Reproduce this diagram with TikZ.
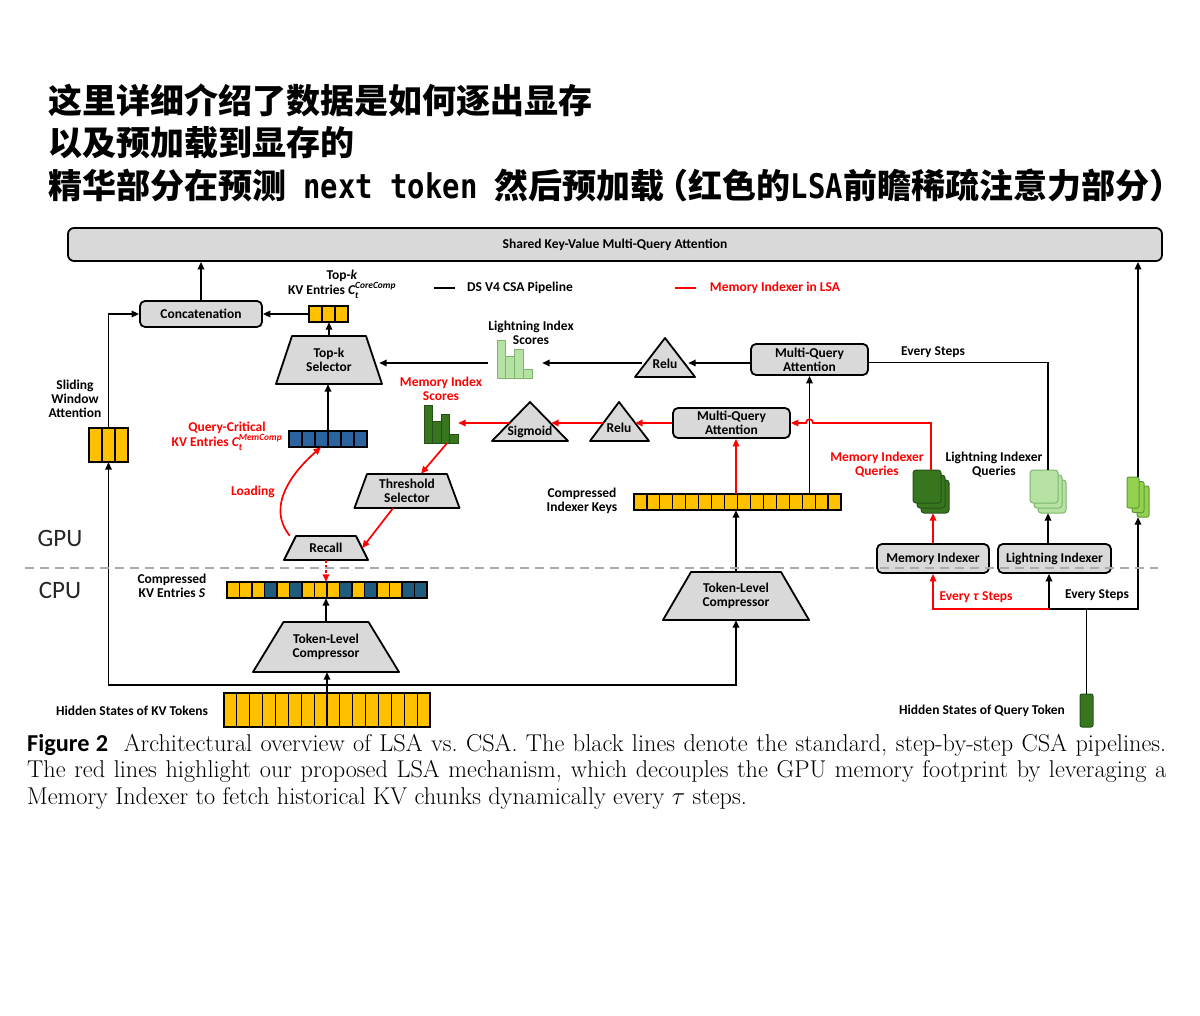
\documentclass[tikz,border=0pt]{standalone}
\usepackage{amsmath}
\usepackage{bm}
\usepackage{fontspec}
\usepackage{xcolor}
\usetikzlibrary{positioning}
\usetikzlibrary{arrows.meta}

\newfontfamily\lblfamily{Carlito}
\newfontfamily\cjkfont{Noto Sans CJK SC}
\newfontfamily\titlemono{DejaVu Sans Mono}[FakeStretch=0.85]
\newcommand{\lblfont}{\lblfamily\bfseries\fontsize{13.5}{14}\selectfont}
\newcommand{\gpufont}{\lblfamily\fontsize{25}{28}\selectfont}
\newcommand{\titlefont}{\cjkfont\bfseries\fontsize{34}{40}\selectfont}
\newcommand{\mathlbl}[1]{\text{\itshape #1}}

\definecolor{boxgray}{HTML}{D9D9D9}
\definecolor{kvyellow}{HTML}{FFC000}
\definecolor{qblue}{HTML}{2B63A0}
\definecolor{sblue}{HTML}{1F5C7E}
\definecolor{dkgreen}{HTML}{38761D}
\definecolor{dkgreenD}{HTML}{25501A}
\definecolor{ltgreen}{HTML}{B6E3A4}
\definecolor{ltgreenD}{HTML}{7DB56C}
\definecolor{qlime}{HTML}{92D050}
\definecolor{qlimeD}{HTML}{5E9A35}
\definecolor{lsared}{HTML}{FF0000}
\definecolor{splitgray}{HTML}{ABABAB}

\tikzset{
  lbl/.style={font=\lblfont, align=center, inner sep=0pt},
  redlbl/.style={lbl, text=lsared},
  grbox/.style={draw, line width=1.8pt, fill=boxgray, rounded corners=5pt, inner sep=0pt, font=\lblfont, align=center},
  shp/.style={draw, line width=1.8pt, fill=boxgray, line join=round},
  anchorbox/.style={inner sep=0pt, draw=none},
  cell/.style={draw, line width=1.2pt},
  barlt/.style={draw=ltgreenD, fill=ltgreen, line width=1pt},
  bardk/.style={draw=dkgreenD, fill=dkgreen, line width=1pt},
  stackdk/.style={draw=dkgreenD, fill=dkgreen, line width=1pt, rounded corners=3pt},
  stacklt/.style={draw=ltgreenD, fill=ltgreen, line width=1pt, rounded corners=3pt},
  stacklime/.style={draw=qlimeD, fill=qlime, line width=1pt, rounded corners=2pt},
  arr/.style={line width=1.7pt, -{Triangle[length=7.5pt,width=6.5pt]}},
  redarr/.style={arr, lsared},
  plainline/.style={line width=1.7pt},
  titletext/.style={anchor=west, inner sep=0pt, font=\titlefont},
  gputext/.style={inner sep=0pt, font=\gpufont, text=black!85}
}

\begin{document}
\begin{tikzpicture}[x=1pt,y=-1pt]
\fill[white] (0,0) rectangle (1200,1016);
\useasboundingbox (0,0) rectangle (1200,1016);

\node[titletext] (title1) at (48,100) {这里详细介绍了数据是如何逐出显存};
\node[titletext] (title2) at (48,143) {以及预加载到显存的};
\node[titletext] (title3) at (48,186) {精华部分在预测{\titlemono\bfseries\ next\ token\ }然后预加载\kern-10pt（红色的{\titlemono\bfseries LSA}前瞻稀疏注意力部分）};

\node[grbox, minimum width=1094, minimum height=33, rounded corners=6pt] (kvmqa) at (615,244.5) {Shared Key-Value Multi-Query Attention};

\node[lbl] (leg1) at (520,288) {DS V4 CSA Pipeline};
\draw[plainline] ([xshift=-12pt]leg1.west) -- ++(-21,0);
\node[redlbl] (leg2) at (775,288) {Memory Indexer in LSA};
\draw[plainline, lsared] ([xshift=-14pt]leg2.west) -- ++(-21,0);

\node[grbox, minimum width=122, minimum height=26] (concat) at (201,314) {Concatenation};
\node[grbox, minimum width=117, minimum height=31] (mqa1) at (809.5,359.5) {Multi-Query\\Attention};
\node[grbox, minimum width=117, minimum height=30] (mqa2) at (731.5,423) {Multi-Query\\Attention};
\node[grbox, minimum width=112, minimum height=29] (mi) at (933,558.5) {Memory Indexer};
\node[grbox, minimum width=113, minimum height=29] (li) at (1054.5,558.5) {Lightning Indexer};

\draw[shp] (292,336) -- (366,336) -- (382,384) -- (276,384) -- cycle;
\node[lbl, minimum width=100, minimum height=48] (topksel) at (329,360) {Top-k\\Selector};
\draw[shp] (367,474) -- (447,474) -- (459.5,508) -- (354.5,508) -- cycle;
\node[lbl, minimum width=90, minimum height=34] (thsel) at (407,491) {Threshold\\Selector};
\draw[shp] (296,536) -- (356,536) -- (368,560) -- (284,560) -- cycle;
\node[lbl, minimum width=72, minimum height=24] (recall) at (326,548) {Recall};
\draw[shp] (283.5,622) -- (368.5,622) -- (399,672) -- (253,672) -- cycle;
\node[lbl, minimum width=116, minimum height=50] (tlc1) at (326,647) {Token-Level\\Compressor};
\draw[shp] (691,572) -- (781,572) -- (809,620) -- (663,620) -- cycle;
\node[lbl, minimum width=118, minimum height=48] (tlc2) at (736,596) {Token-Level\\Compressor};

\draw[shp] (665,338) -- (695,377) -- (635,377) -- cycle;
\node[anchorbox, minimum width=46, minimum height=20] (relu1) at (665,363) {};
\node[lbl] (relu1t) at (665,364) {Relu};
\draw[shp] (619,402) -- (649,441) -- (590,441) -- cycle;
\node[anchorbox, minimum width=32, minimum height=20] (relu2) at (619,423) {};
\node[lbl] (relu2t) at (619,428) {Relu};
\draw[shp] (530,402) -- (568,441) -- (492,441) -- cycle;
\node[anchorbox, minimum width=42, minimum height=20] (sig) at (530,423) {};
\node[lbl] (sigt) at (530,432) {Sigmoid};

\node[anchorbox, minimum width=54, minimum height=38] (lis) at (515,363) {};
\foreach \x/\t in {497/341,505.75/357,514.5/350,523.25/370}
  \draw[barlt] (\x,\t) rectangle (\x+8.75,379);
\node[lbl] (lbllis) at (531,333) {Lightning Index\\Scores};
\node[anchorbox, minimum width=34, minimum height=38] (mis) at (441,424) {};
\foreach \x/\t in {424/405,432.5/421,441/414,449.5/434}
  \draw[bardk] (\x,\t) rectangle (\x+8.5,443);
\node[redlbl] (lblmis) at (441,389) {Memory Index\\Scores};

\foreach \d in {8,4,0}
  \draw[stackdk] (913+\d,470+\d*1.25) rectangle ++(28,33);
\node[anchorbox, minimum width=36, minimum height=43] (mq) at (931,491.5) {};
\foreach \d in {8,4,0}
  \draw[stacklt] (1030+\d,470+\d*1.25) rectangle ++(28,33);
\node[anchorbox, minimum width=36, minimum height=43] (lq) at (1048,491.5) {};
\foreach \d in {10,5,0}
  \draw[stacklime] (1127+\d,477+\d*0.9) rectangle ++(12,31);
\node[anchorbox, minimum width=22, minimum height=40] (lime) at (1138,497) {};
\node[redlbl] (lblmq) at (877,465) {Memory Indexer\\Queries};
\node[lbl] (lblliq) at (994,465) {Lightning Indexer\\Queries};
\node[lbl] (lblevery1) at (933,352) {Every Steps};

\node[anchorbox, minimum width=39, minimum height=16] (ccore) at (328.5,314) {};
\foreach \i in {0,1,2}
  \draw[cell, fill=kvyellow] (309+\i*13,306) rectangle ++(13,16);
\node[anchorbox, minimum width=39, minimum height=34] (swa) at (108.5,445) {};
\foreach \i in {0,1,2}
  \draw[cell, fill=kvyellow] (89+\i*13,428) rectangle ++(13,34);
\node[anchorbox, minimum width=78, minimum height=16] (qck) at (328,439) {};
\foreach \i in {0,...,5}
  \draw[cell, fill=qblue] (289+\i*13,431) rectangle ++(13,16);
\node[anchorbox, minimum width=200, minimum height=16] (ckv) at (327,590) {};
\foreach \c [count=\i from 0] in {kvyellow,kvyellow,kvyellow,sblue,kvyellow,sblue,kvyellow,kvyellow,kvyellow,sblue,kvyellow,sblue,kvyellow,kvyellow,sblue,sblue}
  \draw[cell, fill=\c] (227+\i*12.5,582) rectangle ++(12.5,16);
\node[anchorbox, minimum width=207, minimum height=16] (cik) at (737.5,502) {};
\foreach \i in {0,...,15}
  \draw[cell, fill=kvyellow] (634+\i*12.9375,494) rectangle ++(12.9375,16);
\node[anchorbox, minimum width=206, minimum height=34] (hkv) at (327,710) {};
\foreach \i in {0,...,15}
  \draw[cell, fill=kvyellow] (224+\i*12.875,693) rectangle ++(12.875,34);
\node[draw=dkgreenD, fill=dkgreen, line width=1pt, rounded corners=2pt, minimum width=13, minimum height=33, inner sep=0pt] (hqt) at (1086.5,710.5) {};

\node[lbl] (lbltopk) at (342,284) {Top-\textit{k}\\KV Entries $\mathlbl{C}_{\mathlbl{t}}^{\mathlbl{CoreComp}}$};
\node[lbl] (lblsliding) at (75,399) {Sliding\\Window\\Attention};
\node[redlbl] (lblqck) at (227,436) {Query-Critical\\KV Entries $\mathlbl{C}_{\mathlbl{t}}^{\mathlbl{MemComp}}$};
\node[redlbl] (lblload) at (253,492) {Loading};
\node[lbl] (lblckv) at (172,586) {Compressed\\KV Entries \textit{S}};
\node[lbl] (lblcik) at (582,501) {Compressed\\Indexer Keys};
\node[lbl] (lblhkv) at (132,711) {Hidden States of KV Tokens};
\node[lbl] (lblhqt) at (982,711) {Hidden States of Query Token};
\node[redlbl] (lbltau) at (976,597) {Every \textit{τ} Steps};
\node[lbl] (lblevery2) at (1097,595) {Every Steps};
\node[gputext] (gpu) at (60,538) {GPU};
\node[gputext] (cpu) at (60,590) {CPU};

\draw[arr] (concat.north) -- (concat.north |- kvmqa.south);
\draw[arr] (lime.north) -- (lime.north |- kvmqa.south);
\draw[arr] (ccore.west) -- (concat.east);
\draw[arr] (topksel.north) -- (topksel.north |- ccore.south);
\draw[arr] (lis.west) -- (lis.west -| topksel.east);
\draw[arr] (relu1.west) -- (relu1.west -| lis.east);
\draw[arr] (mqa1.west |- relu1.east) -- (relu1.east);
\draw[plainline] (lq.north) |- ([yshift=-3pt]mqa1.east);
\draw[arr] (mqa1.south |- cik.north) -- (mqa1.south);
\draw[redarr] (tlc2.north |- cik.north) -- (tlc2.north |- mqa2.south);
\draw[arr] (tlc2.north) -- (tlc2.north |- cik.south);
\draw[redarr] (mqa2.west) -- (mqa2.west -| relu2.east);
\draw[redarr] (relu2.west) -- (relu2.west -| sig.east);
\draw[redarr] (sig.west) -- (sig.west -| mis.east);
\draw[redarr] ([xshift=6pt]mis.south) -- ([xshift=14pt]thsel.north);
\draw[redarr] ([xshift=-14pt]thsel.south) -- (recall.east);
\draw[redarr, dash pattern=on 3pt off 2pt] (recall.south) -- (recall.south |- ckv.north);
\draw[redarr] (recall.north west) .. controls (265,505) and (295,470) .. ([xshift=-7pt]qck.south);
\draw[arr] (qck.north) -- (qck.north |- topksel.south);
\draw[arr] (tlc1.north) -- (tlc1.north |- ckv.south);
\draw[arr] (hkv.north) -- (hkv.north |- tlc1.south);
\coordinate (kvsplit) at (326,685);
\draw[arr] (kvsplit) -| (swa.south);
\draw[arr] (kvsplit) -| (tlc2.south);
\draw[arr] (swa.north) |- (concat.west);
\draw[redarr] (mq.north) |- (813,423) .. controls (813,418) and (806,418) .. (806,423) -- (mqa2.east);
\draw[redarr] (mi.north) -- (mi.north |- mq.south);
\draw[arr] (lq.south |- li.north) -- (lq.south);
\coordinate (lsplit) at (1049,609);
\draw[plainline] (hqt.north) -- (hqt.north |- lsplit);
\draw[arr] (lsplit) -- (lsplit |- li.south);
\draw[arr] (lsplit) -| (lime.south);
\draw[redarr] (lsplit) -| (mi.south);

\draw[splitgray, line width=2pt, dash pattern=on 9pt off 6pt] (25,568) -- (1158,568);

\node[anchor=north west, inner sep=0pt, text width=1139pt, align=justify, font=\fontsize{24.3}{26.5}\selectfont] (caption) at (27,734) {{\lblfamily\bfseries Figure 2}\hspace{0.65em}Architectural overview of LSA vs.\ CSA. The black lines denote the standard, step-by-step CSA pipelines.\linebreak The red lines highlight our proposed LSA mechanism, which decouples the GPU memory footprint by leveraging a\linebreak Memory Indexer to fetch historical KV chunks dynamically every $\tau$ steps.};
\end{tikzpicture}
\end{document}
